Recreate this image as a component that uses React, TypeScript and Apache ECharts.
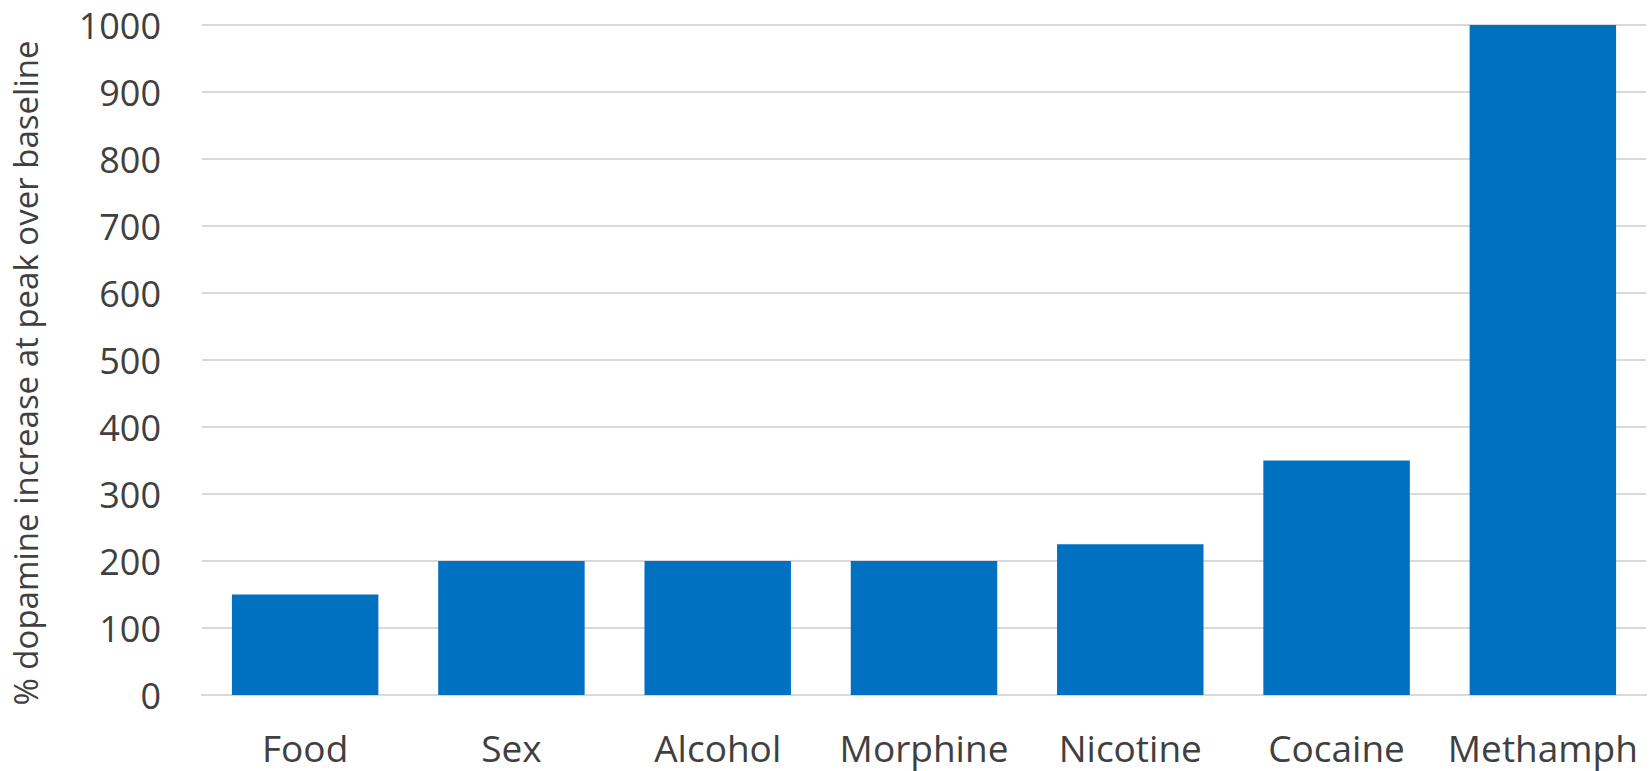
import React, { useEffect, useRef } from "react";
import * as echarts from "echarts";

const categories = ["Food", "Sex", "Alcohol", "Morphine", "Nicotine", "Cocaine", "Methamph"];
const dopamineIncrease = [150, 200, 200, 200, 225, 350, 1000];
const axisTitle = "% dopamine increase at peak over baseline";

const FONT = "'Open Sans', 'Liberation Sans', sans-serif";
const TEXT = "#404040";

export default function App() {
  const ref = useRef<HTMLDivElement>(null);

  useEffect(() => {
    document.body.style.margin = "0";
    const chart = echarts.init(ref.current!, null, { renderer: "svg" });
    chart.setOption({
      animation: false,
      backgroundColor: "#ffffff",
      grid: { left: 202, right: 6, top: 25, bottom: 76, containLabel: false },
      xAxis: {
        type: "category",
        data: categories,
        axisLine: { show: true, lineStyle: { color: "#d9d9d9", width: 2 } },
        axisTick: { show: false },
        axisLabel: {
          interval: 0,
          color: TEXT,
          fontFamily: FONT,
          fontSize: 37,
          lineHeight: 37,
          margin: 34,
        },
      },
      yAxis: {
        type: "value",
        min: 0,
        max: 1000,
        interval: 100,
        name: axisTitle,
        nameLocation: "middle",
        nameRotate: 90,
        nameGap: 160,
        // right padding nudges the rotated title a little below the plot's middle
        nameTextStyle: { color: TEXT, fontFamily: FONT, fontSize: 33, padding: [0, 26, 0, 0] },
        axisLine: { show: false },
        axisTick: { show: false },
        splitLine: { lineStyle: { color: "#d9d9d9", width: 2 } },
        axisLabel: {
          color: TEXT,
          fontFamily: FONT,
          fontSize: 36,
          margin: 41,
          formatter: (v: number) => String(v),
        },
      },
      series: [
        {
          type: "bar",
          data: dopamineIncrease,
          barCategoryGap: "29%",
          itemStyle: { color: "#0070c0" },
        },
      ],
    });
    return () => chart.dispose();
  }, []);

  return <div ref={ref} style={{ width: 1652, height: 771 }} />;
}
